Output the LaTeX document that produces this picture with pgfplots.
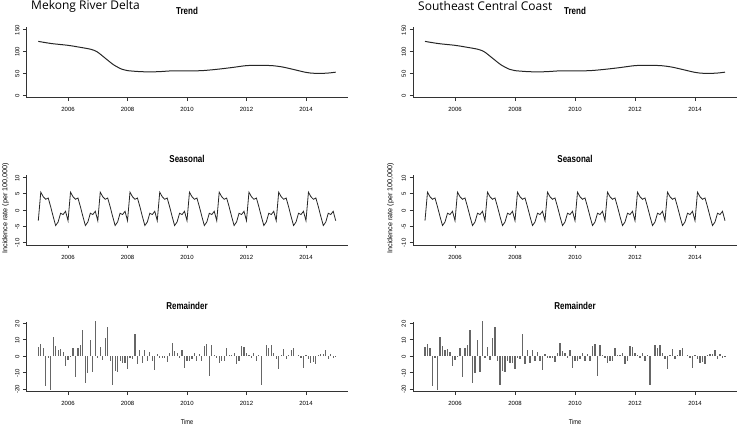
\documentclass[border=0pt]{standalone}
\usepackage{pgfplots}
\pgfplotsset{compat=1.18}
\usepackage{pgfplotstable}
\usepackage{fontspec}
\setmainfont{Liberation Sans}
\newfontfamily\titlefont{Open Sans}
\newfontfamily\narrowfont[FakeStretch=0.8]{Liberation Sans}

% seasonal (s) and remainder (r), monthly from Jan 2005 to Jan 2015
\pgfplotstableread[row sep=\\]{
s r\\
-3.3 5.5\\ 5.5 7.5\\ 4.1 5\\ 3.3 -18\\ 3.7 -1\\ 1.0 -20.4\\ -2.0 11.6\\ -4.8 6.5\\ -3.7 3.5\\ -1.0 4.3\\ -1.4 2.5\\ -0.4 -5.7\\
-3.3 -2.5\\ 5.5 -0.5\\ 4.1 4.7\\ 3.3 -12.8\\ 3.7 4.7\\ 1.0 7.1\\ -2.0 15.7\\ -4.8 -16.3\\ -3.7 -10.2\\ -1.0 9.6\\ -1.4 -9.6\\ -0.4 21.4\\
-3.3 -1\\ 5.5 5.7\\ 4.1 -2.5\\ 3.3 10.8\\ 3.7 17.8\\ 1.0 -3\\ -2.0 -17.3\\ -4.8 -9.2\\ -3.7 -9.6\\ -1.0 -3\\ -1.4 -4\\ -0.4 -4\\
-3.3 -7.8\\ 5.5 -1\\ 4.1 -1.5\\ 3.3 13.3\\ 3.7 -5\\ 1.0 4\\ -2.0 -4\\ -4.8 3.5\\ -3.7 -3\\ -1.0 2.5\\ -1.4 -3\\ -0.4 -8.6\\
-3.3 1.5\\ 5.5 -1\\ 4.1 -1\\ 3.3 -1\\ 3.7 -3.5\\ 1.0 2\\ -2.0 8.2\\ -4.8 3\\ -3.7 2\\ -1.0 -1\\ -1.4 4\\ -0.4 -7\\
-3.3 -3\\ 5.5 -3\\ 4.1 -2\\ 3.3 2\\ 3.7 -3\\ 1.0 1.5\\ -2.0 -3\\ -4.8 6\\ -3.7 7.5\\ -1.0 -11.8\\ -1.4 7\\ -0.4 0.5\\
-3.3 -1\\ 5.5 -4\\ 4.1 -3\\ 3.3 -3\\ 3.7 4.7\\ 1.0 0.5\\ -2.0 0.5\\ -4.8 2\\ -3.7 -4.5\\ -1.0 -3\\ -1.4 6.5\\ -0.4 5.5\\
-3.3 2\\ 5.5 1\\ 4.1 -1\\ 3.3 2\\ 3.7 -3\\ 1.0 1\\ -2.0 -17.3\\ -4.8 0\\ -3.7 7\\ -1.0 5\\ -1.4 7\\ -0.4 2\\
-3.3 -2\\ 5.5 -7.5\\ 4.1 0.5\\ 3.3 4.5\\ 3.7 -2\\ 1.0 1\\ -2.0 3.5\\ -4.8 5\\ -3.7 0\\ -1.0 1\\ -1.4 -1\\ -0.4 -7\\
-3.3 0.5\\ 5.5 -2\\ 4.1 -4\\ 3.3 -3.5\\ 3.7 -5\\ 1.0 0.5\\ -2.0 1.5\\ -4.8 1.5\\ -3.7 4\\ -1.0 -1.5\\ -1.4 1.5\\ -0.4 -1\\
-3.3 -0.5\\
}\stl

\pgfplotsset{
  rstyle/.style={
    scale only axis, axis lines=left, clip mode=individual,
    axis line style={-, line width=0.6pt, black!80},
    tick align=outside, major tick length=3.5pt,
    tick style={line width=0.6pt, black!80},
    xmin=2004.6, xmax=2015.4, xtick={2006,2008,2010,2012,2014},
    /pgf/number format/assume math mode=true,
    /pgf/number format/1000 sep={},
    xticklabel style={font=\fontsize{6}{6}\selectfont, yshift=-3pt},
    yticklabel style={rotate=90, anchor=south, font=\fontsize{6}{6}\selectfont, xshift=-0.5pt},
  },
}
\tikzset{ttl/.style={font=\narrowfont\bfseries\fontsize{10}{11}\selectfont}}

\newcommand\drawcolumn[4]{% #1 left x, #2 width, #3 main title, #4 main title x
  \begin{axis}[rstyle, at={(#1,327.3pt)}, anchor=south west, width=#2, height=70.7pt,
      ymin=-6, ymax=156, ytick={0,50,100,150}]
    \addplot[smooth, line width=1pt, black!85] coordinates {
      (2005.0,123) (2005.45,118) (2006.0,114) (2006.36,110) (2006.76,105) (2006.98,99)
      (2007.26,84) (2007.54,69) (2007.82,59) (2008.0,56) (2008.5,53.5) (2009.0,53.5)
      (2009.5,55.5) (2010.0,55.5) (2010.5,56) (2011.0,59) (2011.5,63) (2012.0,67.5)
      (2012.4,68) (2012.85,67.5) (2013.2,64.5) (2013.5,60) (2014.0,52) (2014.3,49.8)
      (2014.7,50.2) (2015.0,52.5)};
    \node[ttl] at (rel axis cs:0.5,1) [yshift=16pt] {Trend};
  \end{axis}
  \begin{axis}[rstyle, at={(#1,180pt)}, anchor=south west, width=#2, height=70pt,
      ymin=-10.8, ymax=10.8, ytick={-10,-5,0,5,10}]
    \addplot[line width=0.8pt, black!85] table[x expr=2005+\coordindex/12, y=s] {\stl};
    \node[ttl] at (rel axis cs:0.5,1) [yshift=16pt] {Seasonal};
  \end{axis}
  \begin{axis}[rstyle, at={(#1,33.3pt)}, anchor=south west, width=#2, height=70pt,
      ymin=-21.6, ymax=21, ytick={-20,-10,0,10,20}]
    \addplot[ycomb, line width=1.1pt, black!60] table[x expr=2005+\coordindex/12, y=r] {\stl};
    \node[ttl] at (rel axis cs:0.5,1) [yshift=16pt] {Remainder};
    \node[font=\narrowfont\fontsize{7}{8}\selectfont] at (rel axis cs:0.5,0) [yshift=-30pt] {Time};
  \end{axis}
  \node[anchor=west, inner sep=0pt, text=black] at (#4,419pt) {\titlefont\fontsize{12}{14}\selectfont #3};
}

\begin{document}
\begin{tikzpicture}[x=1pt,y=1pt]
\useasboundingbox (0,0) rectangle (740,425);
\drawcolumn{26.4pt}{321.2pt}{Mekong River Delta}{31pt}
\drawcolumn{413pt}{324pt}{Southeast Central Coast}{418pt}
\node[rotate=90, font=\fontsize{7.2}{8}\selectfont] at (5.5,217) {Incidence rate (per 100,000)};
\node[rotate=90, font=\fontsize{7.2}{8}\selectfont] at (390.5,217) {Incidence rate (per 100,000)};
\end{tikzpicture}
\end{document}
